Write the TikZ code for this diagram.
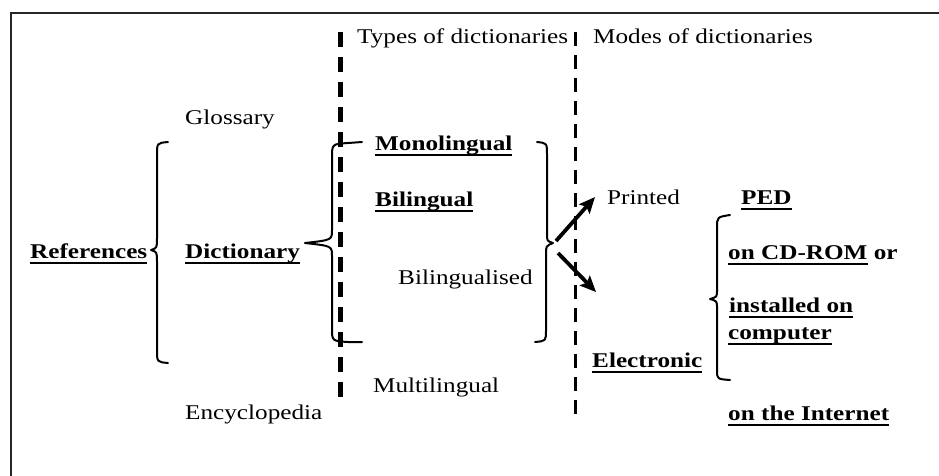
\documentclass[tikz,border=0pt]{standalone}
\usepackage{fontspec}
\setmainfont{Liberation Serif}[FakeStretch=1.2]
\usetikzlibrary{arrows.meta}
\newcommand\myul[1]{\setbox0=\hbox{#1}\rlap{\rule[-5.5pt]{\wd0}{1.6pt}}\box0\relax}
\newcommand\bul[1]{\myul{\textbf{#1}}}
\begin{document}
\begin{tikzpicture}[x=1pt,y=-1pt,
  txt/.style={anchor=base west, inner sep=0pt, font=\fontsize{21}{25}\selectfont},
  brace/.style={line width=2pt, line cap=round, line join=round},
  arr/.style={line width=3.8pt, -{Stealth[length=16pt,width=14pt,inset=3pt]}},
  sep1/.style={line width=5pt, dash pattern=on 15pt off 10pt},
  sep2/.style={line width=3pt, dash pattern=on 14pt off 9pt},
  ]
\useasboundingbox (0,0) rectangle (939,475);
\fill[white] (0,0) rectangle (939,475);
\draw[line width=2.5pt, black!85] (11,480) -- (11,13) -- (945,13);

% separators
\coordinate (s1top) at (340,32);
\coordinate (s1bot) at (340,400);
\coordinate (s2top) at (575,32);
\coordinate (s2bot) at (575,417);
\draw[sep1] (s1top) -- (s1bot);
\draw[sep2] (s2top) -- (s2bot);

% headings
\node[txt] (types) at (357,43) {Types of dictionaries};
\node[txt] (modes) at (593,43) {Modes of dictionaries};

% left column
\node[txt] (refs) at (30,258) {\bul{References}};
\node[txt] (gloss) at (185,124) {Glossary};
\node[txt] (dict) at (185,258) {\bul{Dictionary}};
\node[txt] (ency) at (185,419) {Encyclopedia};

% types
\node[txt] (mono) at (375,150) {\bul{Monolingual}};
\node[txt] (bil) at (375,206) {\bul{Bilingual}};
\node[txt] (bils) at (398,284) {Bilingualised};
\node[txt] (multi) at (373,392) {Multilingual};

% modes
\node[txt] (printed) at (607,204) {Printed};
\node[txt] (ped) at (741,204) {\bul{PED}};
\node[txt] (elec) at (592,367) {\bul{Electronic}};
\node[txt] (cdrom) at (728,259) {\bul{on CD-ROM} \textbf{or}};
\node[txt] (inst) at (729,312) {\bul{installed on}};
\node[txt] (comp) at (728,339) {\bul{computer}};
\node[txt] (inet) at (728,420) {\bul{on the Internet}};

% braces
\draw[brace] (168,142) .. controls (157,143) .. (157,155) -- (157,238)
  .. controls (157,248) .. (151,250) .. controls (157,252) .. (157,262)
  -- (157,350) .. controls (157,362) .. (168,363);
\draw[brace] (362,142) -- (348,143) .. controls (332,144) .. (332,158) -- (332,230)
  .. controls (332,240) .. (305,243) .. controls (332,246) .. (332,256)
  -- (332,328) .. controls (332,341) .. (348,342) -- (362,342);
\draw[brace] (537,142) .. controls (547,143) .. (547,155) -- (547,234)
  .. controls (547,241) .. (553,243) .. controls (546,246) .. (546,254)
  -- (546,330) .. controls (546,341) .. (535,342);
\draw[brace] (730,215) .. controls (717,217) .. (717,228) -- (717,290)
  .. controls (717,297) .. (710,299) .. controls (717,301) .. (717,308)
  -- (717,370) .. controls (717,379) .. (730,380);

% arrows
\coordinate (tip) at (553,243);
\coordinate (pstart) at (556,241);
\coordinate (estart) at (558,253);
\coordinate (pend) at (595,197);
\coordinate (eend) at (596,292);
\draw[arr] (pstart) -- (pend);
\draw[arr] (estart) -- (eend);
\end{tikzpicture}
\end{document}
